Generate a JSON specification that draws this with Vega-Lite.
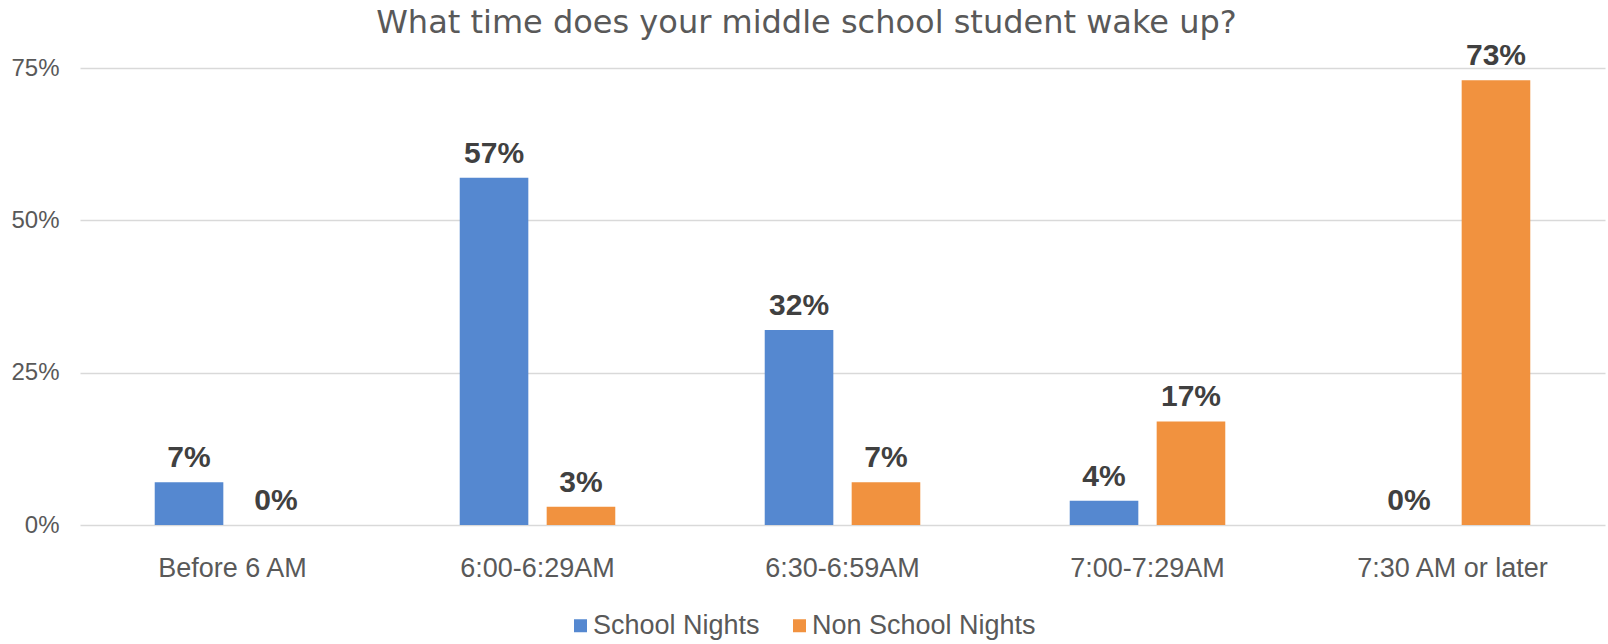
{
  "$schema": "https://vega.github.io/schema/vega-lite/v6.json",
  "autosize": {"type": "none"},
  "width": 1525,
  "height": 457,
  "padding": {"left": 80, "top": 68, "right": 3, "bottom": 119},
  "background": "white",
  "title": {
    "text": "What time does your middle school student wake up?",
    "font": "DejaVu Sans",
    "fontSize": 32,
    "fontWeight": "normal",
    "color": "#595959",
    "anchor": "middle",
    "offset": 1,
    "dx": -36
  },
  "data": {
    "values": [
      {"time": "Before 6 AM", "series": "School Nights", "value": 0.07},
      {"time": "Before 6 AM", "series": "Non School Nights", "value": 0.0},
      {"time": "6:00-6:29AM", "series": "School Nights", "value": 0.57},
      {"time": "6:00-6:29AM", "series": "Non School Nights", "value": 0.03},
      {"time": "6:30-6:59AM", "series": "School Nights", "value": 0.32},
      {"time": "6:30-6:59AM", "series": "Non School Nights", "value": 0.07},
      {"time": "7:00-7:29AM", "series": "School Nights", "value": 0.04},
      {"time": "7:00-7:29AM", "series": "Non School Nights", "value": 0.17},
      {"time": "7:30 AM or later", "series": "School Nights", "value": 0.0},
      {"time": "7:30 AM or later", "series": "Non School Nights", "value": 0.73}
    ]
  },
  "encoding": {
    "x": {
      "field": "time",
      "type": "nominal",
      "sort": ["Before 6 AM", "6:00-6:29AM", "6:30-6:59AM", "7:00-7:29AM", "7:30 AM or later"],
      "scale": {"paddingInner": 0.49, "paddingOuter": 0.245},
      "axis": {
        "title": null,
        "labelAngle": 0,
        "labelFont": "Liberation Sans",
        "labelFontSize": 27,
        "labelColor": "#595959",
        "labelPadding": 30,
        "labelLimit": 400,
        "ticks": false,
        "domain": false,
        "grid": false
      }
    },
    "xOffset": {
      "field": "series",
      "type": "nominal",
      "sort": ["School Nights", "Non School Nights"],
      "scale": {"paddingInner": 0.211, "paddingOuter": 0}
    },
    "y": {
      "field": "value",
      "type": "quantitative",
      "scale": {"domain": [0, 0.75], "nice": false},
      "axis": {
        "title": null,
        "values": [0, 0.25, 0.5, 0.75],
        "format": ".0%",
        "labelFont": "Liberation Sans",
        "labelFontSize": 24,
        "labelColor": "#595959",
        "labelPadding": 21,
        "ticks": false,
        "domain": false,
        "grid": true,
        "gridColor": "#d9d9d9",
        "gridWidth": 1.5
      }
    }
  },
  "layer": [
    {
      "mark": {"type": "bar"},
      "encoding": {
        "color": {
          "field": "series",
          "type": "nominal",
          "scale": {"domain": ["School Nights", "Non School Nights"], "range": ["#5588D0", "#F1923F"]},
          "legend": {
            "title": null,
            "orient": "none",
            "direction": "horizontal",
            "legendX": 487,
            "legendY": 544,
            "padding": 0,
            "symbolType": "square",
            "symbolSize": 169,
            "symbolStrokeWidth": 0,
            "labelFont": "Liberation Sans",
            "labelFontSize": 27,
            "labelLimit": 400,
            "labelColor": "#595959",
            "labelOffset": -1,
            "columnPadding": 26
          }
        }
      }
    },
    {
      "mark": {
        "type": "text",
        "baseline": "alphabetic",
        "dy": -15,
        "font": "Liberation Sans",
        "fontSize": 30,
        "fontWeight": "bold",
        "color": "#404040"
      },
      "encoding": {
        "text": {"field": "value", "type": "quantitative", "format": ".0%"}
      }
    }
  ],
  "config": {"view": {"stroke": null}}
}
